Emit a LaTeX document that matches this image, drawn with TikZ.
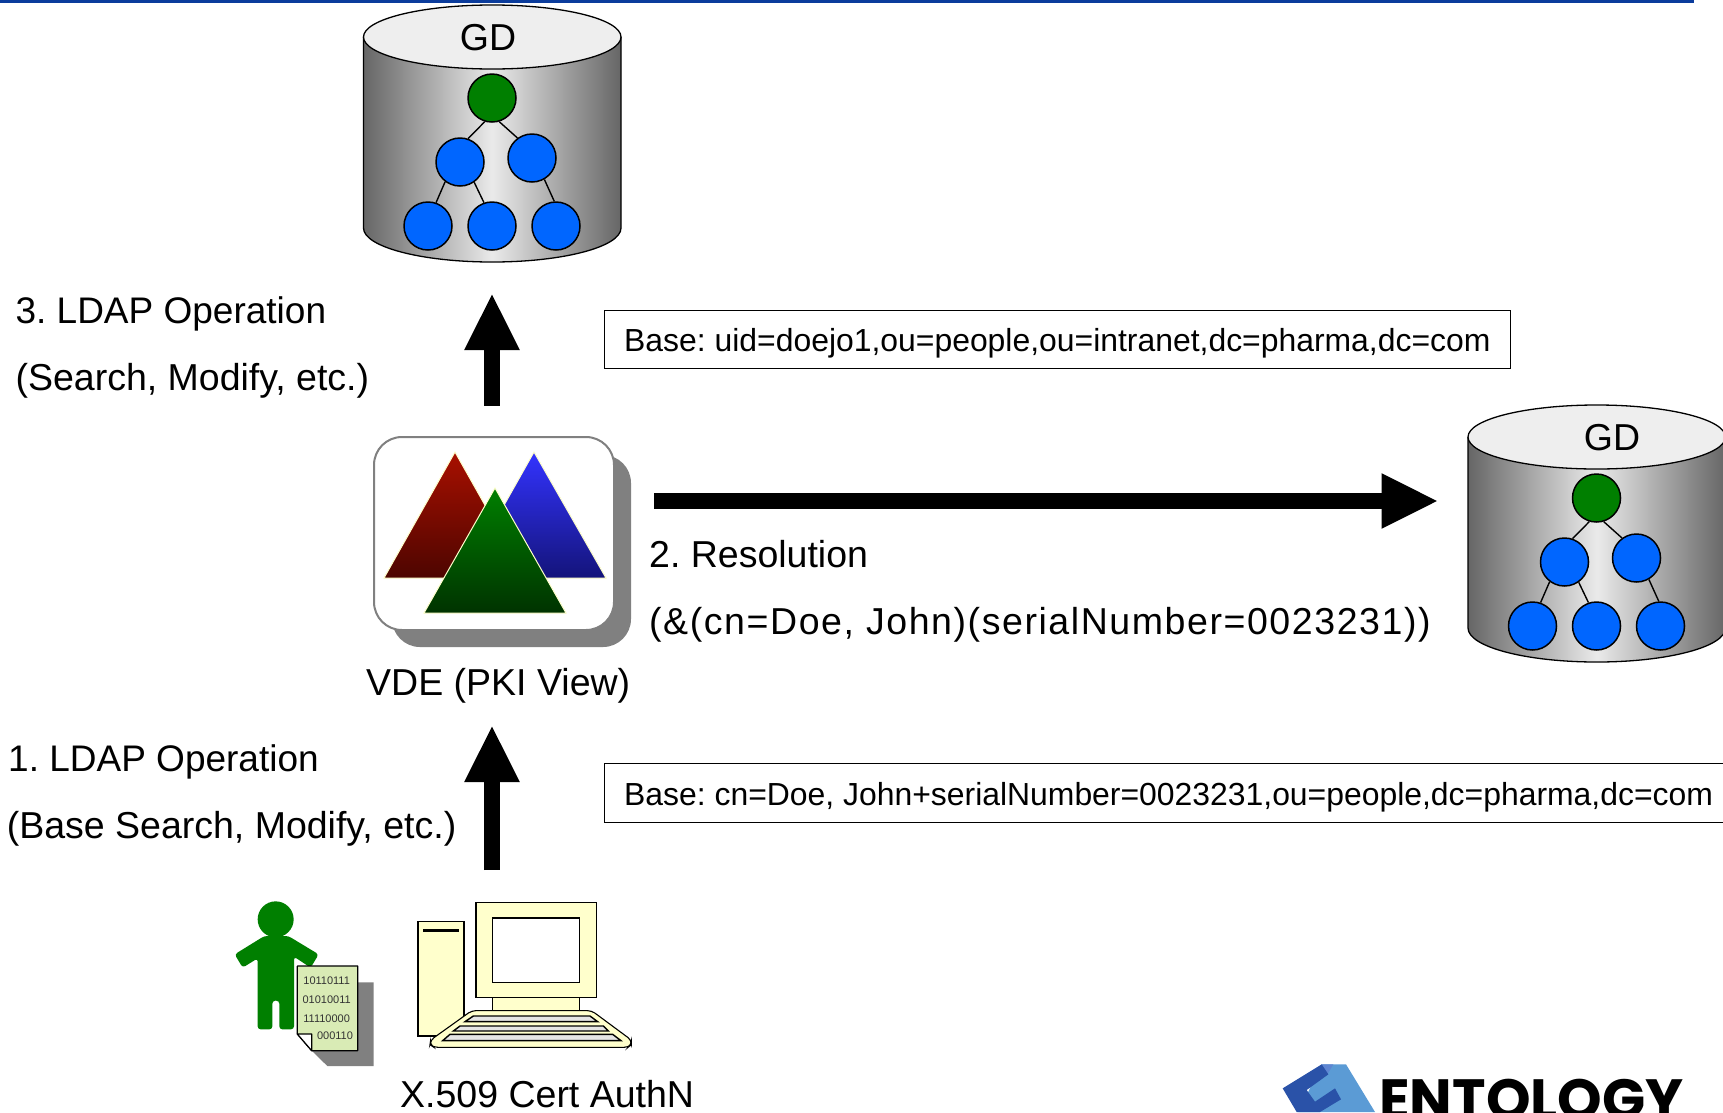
\documentclass[tikz,border=0pt]{standalone}
\usepackage{fontspec}
\setmainfont{Liberation Sans}
\newfontfamily\logofont{Poppins}
\newfontfamily\spacedfont[LetterSpace=4.2]{Liberation Sans}
\usetikzlibrary{arrows.meta}
\definecolor{topbar}{HTML}{0B3C9C}
\definecolor{gdtop}{HTML}{EEEEEE}
\definecolor{cyledge}{HTML}{666666}
\definecolor{cylmid}{HTML}{EAEAEA}
\definecolor{nodegreen}{HTML}{007F00}
\definecolor{nodeblue}{HTML}{0066FF}
\definecolor{shadowgray}{HTML}{808080}
\definecolor{pale}{HTML}{FFFFCC}
\definecolor{docgreen}{HTML}{D9EBB5}
\definecolor{redtop}{HTML}{A81000}
\definecolor{redbot}{HTML}{4D0500}
\definecolor{bluetop}{HTML}{3333FF}
\definecolor{bluebot}{HTML}{14147A}
\definecolor{greenbot}{HTML}{003300}
\definecolor{logodark}{HTML}{2A52A8}
\definecolor{logomid}{HTML}{5F86D2}
\definecolor{logolight}{HTML}{5B9BD5}
\tikzset{
  x=1pt,y=-1pt,
  treedot/.style={circle,draw=black,line width=1.5pt,minimum size=48pt,inner sep=0pt,fill=nodeblue},
  rootdot/.style={treedot,fill=nodegreen},
  treeline/.style={line width=1.4pt,black},
  bigarrow/.style={line width=15.5pt,-{Triangle[length=57pt,width=51pt]}},
  label/.style={anchor=base west,inner sep=0pt,font=\fontsize{37.5}{37.5}\selectfont},
  ldaplabel/.style={anchor=base west,inner sep=0pt,font=\fontsize{37}{37}\selectfont},
  basebox/.style={anchor=base west,inner sep=0pt,font=\fontsize{31.9}{32}\selectfont},
  binary/.style={inner sep=0pt,font=\fontsize{11}{11}\selectfont,text=black!80},
  tri/.style={draw=pale,line width=1pt,line join=miter},
  pc/.style={draw=black,line width=1.1pt,fill=pale},
  keyrow/.style={draw=black,line width=1.4pt,fill=white!90!black}
}
\newcommand{\gdcyl}[4]{% shift x, shift y, GD x, prefix
  \begin{scope}[shift={(#1,#2)}]
    \path[left color=cyledge,right color=cyledge,middle color=cylmid]
      (363.5,37) -- (363.5,228) arc[start angle=180,end angle=0,x radius=128.75,y radius=34]
      -- (621,37) -- cycle;
    \draw[line width=1.3pt] (363.5,37) -- (363.5,228) arc[start angle=180,end angle=0,x radius=128.75,y radius=34] -- (621,37);
    \draw[line width=1.3pt,fill=gdtop] (492.25,37) ellipse[x radius=128.75,y radius=32];
    \node[rootdot] (#4r) at (492,98) {};
    \node[treedot] (#4a) at (460,162) {};
    \node[treedot] (#4b) at (532,158) {};
    \node[treedot] (#4c) at (428,226) {};
    \node[treedot] (#4d) at (492,226) {};
    \node[treedot] (#4e) at (556,226) {};
    \draw[treeline] (#4r.253) -- (#4a.71);
    \draw[treeline] (#4r.287) -- (#4b.126);
    \draw[treeline] (#4a.233) -- (#4c.71);
    \draw[treeline] (#4a.305) -- (#4d.109);
    \draw[treeline] (#4b.300) -- (#4e.94);
    \node[inner sep=0pt,font=\fontsize{37.5}{37.5}\selectfont] (#4t) at (#3,38) {GD};
  \end{scope}}
\begin{document}
\frenchspacing
\begin{tikzpicture}
\useasboundingbox (0,0) rectangle (1723,1112);
\clip (0,0) rectangle (1723,1112);
\fill[white] (0,0) rectangle (1723,1112);
\fill[topbar] (0,0) rectangle (1694,2.5);

\gdcyl{0}{0}{488}{p}
\gdcyl{1104.5}{400}{507.5}{q}

% VDE icon
\fill[shadowgray,rounded corners=28pt] (392,455) rectangle (631,647);
\draw[shadowgray,line width=2pt,fill=white,rounded corners=28pt] (374,437) rectangle (614,630);
\shade[tri,top color=redtop,bottom color=redbot] (455,452) -- (526,578) -- (384,578) -- cycle;
\shade[tri,top color=bluetop,bottom color=bluebot] (534,452) -- (606,578) -- (463,578) -- cycle;
\shade[tri,top color=nodegreen,bottom color=greenbot] (495,488) -- (566,613) -- (424,613) -- cycle;
\coordinate (vdeTop) at (492,405.5);
\coordinate (vdeUp) at (492,293);
\coordinate (vdeRight) at (654,501);
\coordinate (gdLeft) at (1438.5,501);
\coordinate (userTop) at (492,870);
\coordinate (vdeBottom) at (492,725);
\draw[bigarrow] (vdeTop) -- (vdeUp);
\draw[bigarrow] (vdeRight) -- (gdLeft);
\draw[bigarrow] (userTop) -- (vdeBottom);

% base boxes
\node[draw=black,line width=0.8pt,minimum width=905.5pt,minimum height=58pt,anchor=north west,inner sep=0pt] (box1) at (604,309.5) {};
\node[draw=black,line width=0.8pt,minimum width=1130pt,minimum height=59pt,anchor=north west,inner sep=0pt] (box2) at (604,762.5) {};
\node[basebox] (b1) at (624,351) {Base: uid=doejo1,ou=people,ou=intranet,dc=pharma,dc=com};
\node[basebox] (b2) at (624,805) {Base: cn=Doe, John+serialNumber=0023231,ou=people,dc=pharma,dc=com};

% labels
\node[ldaplabel] (l3a) at (15.4,323.5) {3. LDAP Operation};
\node[label] (l3b) at (15.4,390.5) {(Search, Modify, etc.)};
\node[label] (l2a) at (649,567.5) {2. Resolution};
\node[label] (l2b) at (649,634.5) {\spacedfont (\&(cn=Doe, John)(serialNumber=0023231))};
\node[label] (vde) at (366,695) {VDE (PKI View)};
\node[ldaplabel] (l1a) at (8,771.5) {1. LDAP Operation};
\node[label] (l1b) at (6.6,838.5) {(Base Search, Modify, etc.)};
\node[label] (x509) at (400,1107) {X.509 Cert AuthN};

% person and certificate
\begin{scope}[shift={(220,890)},x=0.33333pt,y=-0.33333pt]
  \fill[nodegreen] (167,88) circle[radius=54];
  \fill[nodegreen,rounded corners=3pt] (133,138) -- (205,138) -- (296,193) -- (272,233) -- (222,200) -- (222,418) -- (178,418) -- (178,332) -- (157,332) -- (157,418) -- (113,418) -- (113,205) -- (68,233) -- (44,193) -- cycle;
  \fill[shadowgray] (413,277) -- (461,277) -- (461,528) -- (322,528) -- (275,482) -- (413,482) -- cycle;
  \draw[line width=1.2pt,fill=docgreen,line join=round] (232,228) -- (413,228) -- (413,482) -- (275,482) -- (232,432) -- cycle;
  \draw[line width=1.2pt,fill=white,line join=round] (232,432) -- (275,432) -- (275,482) -- cycle;
  \node[binary] (d1) at (320,272) {10110111};
  \node[binary] (d2) at (320,328) {01010011};
  \node[binary] (d3) at (320,385) {11110000};
  \node[binary] (d4) at (345,438) {000110};
\end{scope}

% computer
\begin{scope}[shift={(220,890)},x=0.33333pt,y=-0.33333pt]
  \draw[pc] (594,94) rectangle (732,438);
  \fill[black] (610,117) rectangle (716,127);
  \draw[pc] (818,323) rectangle (1078,362);
  \draw[pc] (768,38) rectangle (1129,323);
  \draw[pc,fill=white] (818,84) rectangle (1078,277);
  \draw[pc,rounded corners=4pt] (755,362) -- (1115,362) -- (1234,450) -- (1234,464) -- (1224,472) -- (642,472) -- (630,464) -- (632,450) -- cycle;
  \draw[keyrow] (760,378) -- (1110,378) -- (1133,395) -- (735,395) -- cycle;
  \draw[keyrow] (720,408) -- (1150,408) -- (1165,423) -- (700,423) -- cycle;
  \draw[keyrow] (690,433) -- (1178,433) -- (1203,452) -- (668,452) -- cycle;
\end{scope}

% logo
\begin{scope}[shift={(1270,1055)},x=0.33333pt,y=-0.33333pt]
  \fill[logolight] (155,28) -- (228,28) -- (315,171) -- (85,171) -- cycle;
  \fill[logomid] (155,28) -- (190,28) -- (172,58) -- cycle;
  \fill[logodark] (38,100) -- (155,28) -- (175,58) -- (110,105) -- (135,140) -- (195,100) -- (213,133) -- (150,171) -- (80,171) -- cycle;
\end{scope}
\node[anchor=base west,inner sep=0pt,font=\logofont\bfseries\fontsize{56.7}{56.7}\selectfont] (logo) at (1379,1119) {ENTOLOGY};
\end{tikzpicture}
\end{document}
